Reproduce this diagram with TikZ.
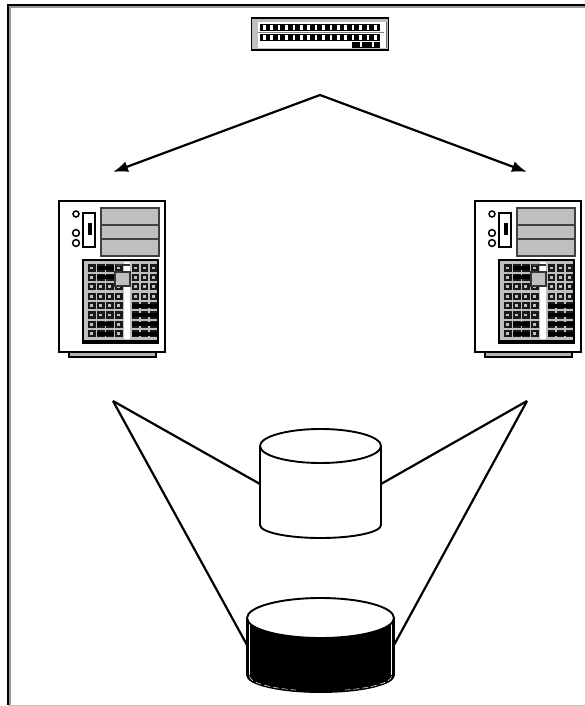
\documentclass[tikz,border=0pt]{standalone}
\usepackage{tikz}
\usetikzlibrary{arrows.meta}
\tikzset{
  px/.style={x=1pt,y=-1pt},
  wire/.style={line width=2.2pt},
  outline/.style={line width=1.9pt, fill=white},
  bay/.style={line width=1.5pt, draw=black!75, fill=black!25},
  keycell/.style={line width=2.2pt, draw=black!90, fill=black!25},
  keydark/.style={fill=black},
  spot/.style={fill=white},
}
% tower computer, drawn from its top left corner
\newcommand{\tower}[1]{%
  \begin{scope}[shift={(#1)}]
    \draw[line width=2pt, fill=black!30] (10,151) -- (10,156) -- (97,156) -- (97,151);
    \draw[outline] (0,0) rectangle (106,151);
    \draw[line width=1.3pt] (24,12) rectangle (36,46);
    \fill (29,22) rectangle (33,34);
    \draw[line width=1.5pt] (17,13) circle (3);
    \draw[line width=1.5pt] (17,32) circle (3.4);
    \draw[line width=1.5pt] (17,42) circle (3.4);
    \draw[bay] (42,7) rectangle (100,24);
    \draw[bay] (42,24) rectangle (100,38);
    \draw[bay] (42,38) rectangle (100,55);
    \draw[line width=1.3pt, fill=black!25] (24,59) rectangle (99,142);
    \fill (24,139) rectangle (99,142.5);
    \foreach \row in {0,...,7} {
      \foreach \col in {0,...,3}
        \draw[keycell] ({30+\col*9},{64.5+\row*9.4}) rectangle ++(5.5,5);
      \foreach \col in {0,1,2}
        \draw[keycell] ({74+\col*8.8},{64.5+\row*9.4}) rectangle ++(5,5);
    }
    % the darker rows of keys
    \foreach \row in {0,1,6,7}
      \fill[keydark] (38,{65+\row*9.4}) rectangle (55,{69+\row*9.4});
    \foreach \row in {4,5,6,7}
      \fill[keydark] (73,{65+\row*9.4}) rectangle (98,{69+\row*9.4});
    \fill[white] (64.5,61) rectangle (70.5,138);
    \draw[line width=1.3pt, black!80] (57,64) -- (71,64);
    \draw[line width=1.5pt, draw=black!80, fill=black!25] (56,71) rectangle (71,85);
  \end{scope}
}
\begin{document}
\begin{tikzpicture}[px]
  \useasboundingbox (0,0) rectangle (585,706);
  \draw[line width=1.2pt, black!40] (585,7) -- (10,7) -- (10,705);
  \draw[line width=2pt] (585,5) -- (8,5) -- (8,705);
  \draw[line width=1.2pt, black!25] (8,705.4) -- (585,705.4);
  % port strip at the top
  \node[draw, line width=1.8pt, minimum width=137pt, minimum height=32pt, inner sep=0pt, fill=black!25] (strip) at (320,34) {};
  \fill[white] (258,22) rectangle (386,48);
  \foreach \yrow in {24,34} {
    \fill (260,\yrow) rectangle (380,\yrow+7.5);
    \foreach \i in {0,...,15}
      \fill[spot] (263+\i*7.4,\yrow+1.5) rectangle ++(2.5,4.5);
  }
  \draw[line width=.8pt, black!50] (258,32.5) -- (384,32.5);
  \fill (352,42) rectangle (380,48);
  \foreach \xslit in {360,372}
    \fill[spot] (\xslit,42.5) rectangle ++(1.5,5);
  \draw[line width=1pt, black!60] (386,22) -- (386,48);
  % arrows to the two computers
  \coordinate (apex) at (320,95);
  \coordinate (leftend) at (113,172);
  \coordinate (rightend) at (527,172);
  \draw[wire, -{Latex[length=15pt,width=11pt]}] (apex) -- (leftend);
  \draw[wire, -{Latex[length=15pt,width=11pt]}] (apex) -- (rightend);
  \tower{59,201}
  \tower{475,201}
  % lines down to the disks
  \coordinate (leftfoot) at (113,401);
  \coordinate (rightfoot) at (527,401);
  \draw[wire] (leftfoot) -- (260,484);
  \draw[wire] (rightfoot) -- (381,484);
  \draw[wire] (leftfoot) -- (247,645);
  \draw[wire] (rightfoot) -- (394,645);
  % upper disk
  \draw[outline] (260,446) -- (260,525) arc[start angle=180, end angle=360, x radius=60.5pt, y radius=13pt] -- (381,446);
  \draw[outline] (320.5,446) ellipse[x radius=60.5pt, y radius=17pt];
  % lower disk
  \draw[line width=1.9pt, fill=black] (247,618) -- (247,675) arc[start angle=180, end angle=360, x radius=73.5pt, y radius=17pt] -- (394,618);
  \draw[white, line width=.5pt] (249.5,622) -- (249.5,675);
  \draw[white, line width=.5pt] (391.5,622) -- (391.5,675);
  \draw[white, line width=.5pt, dash pattern=on 6pt off 3pt] (249.5,676) arc[start angle=180, end angle=250, x radius=71pt, y radius=15pt];
  \draw[white, line width=.5pt, dash pattern=on 6pt off 3pt] (391.5,676) arc[start angle=360, end angle=290, x radius=71pt, y radius=15pt];
  \draw[outline] (320.5,618) ellipse[x radius=73.5pt, y radius=20pt];
\end{tikzpicture}
\end{document}
